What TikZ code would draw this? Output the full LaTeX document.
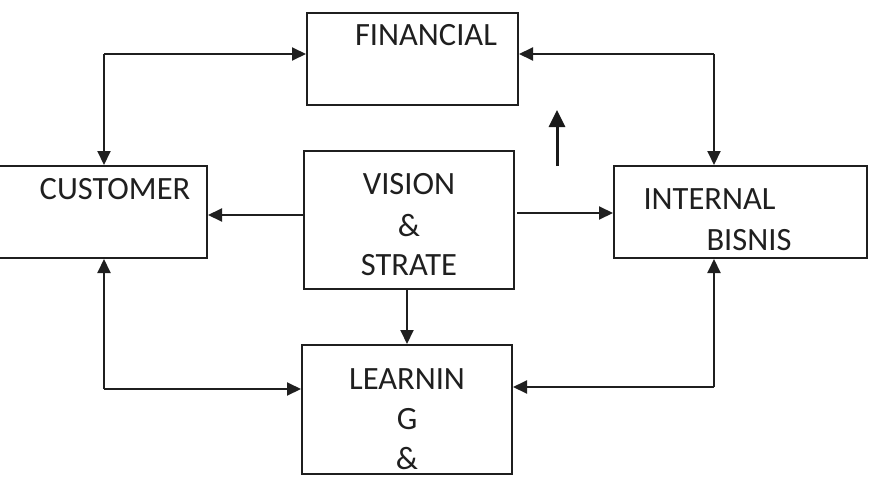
\documentclass[tikz,border=0pt]{standalone}
\usepackage{fontspec}
\setmainfont{Carlito}
\usetikzlibrary{arrows.meta}
\begin{document}
\begin{tikzpicture}[x=1pt,y=-1pt,
  box/.style={draw=black!88, line width=2pt, inner sep=0pt},
  lbl/.style={anchor=base, inner sep=0pt, text=black!88, font=\fontsize{32.5}{39}\selectfont},
  arr/.style={draw=black!88, line width=2pt, -{Triangle[length=14pt,width=13pt]}},
  bigarr/.style={draw=black!90, line width=3pt, -{Triangle[length=17pt,width=16pt]}}]
\useasboundingbox (0,0) rectangle (869,484);
% boxes
\node[box, minimum width=211pt, minimum height=92pt] (fin) at (412.5,59) {};
\node[box, minimum width=217pt, minimum height=92pt] (cust) at (98.5,212) {};
\node[box, minimum width=210pt, minimum height=138pt] (vis) at (409,220) {};
\node[box, minimum width=253pt, minimum height=92pt] (int) at (740.5,212) {};
\node[box, minimum width=210pt, minimum height=129pt] (lrn) at (407,409.5) {};
% texts
\node[lbl] (tfin) at (426,46) {FINANCIAL};
\node[lbl] (tcust) at (115,199) {CUSTOMER};
\node[lbl] (tvis1) at (409,194) {VISION};
\node[lbl] (tvis2) at (409,236) {\&};
\node[lbl] (tvis3) at (409,275) {STRATE};
\node[lbl] (tint1) at (709.5,209.5) {INTERNAL};
\node[lbl] (tint2) at (749,250.5) {BISNIS};
\node[lbl] (tlrn1) at (407,389) {LEARNIN};
\node[lbl] (tlrn2) at (407,429) {G};
\node[lbl] (tlrn3) at (407,469) {\&};
% connectors
\coordinate (c1) at (104,54);
\draw[arr] (c1) -- (fin.west |- c1);
\draw[arr] (c1) -- (cust.north -| c1);
\coordinate (c2) at (714,54);
\draw[arr] (c2) -- (fin.east |- c2);
\draw[arr] (c2) -- (int.north -| c2);
\coordinate (v1) at (304,215);
\draw[arr] (v1) -- (cust.east |- v1);
\coordinate (v2) at (517,213);
\draw[arr] (v2) -- (int.west |- v2);
\coordinate (u1) at (557,166);
\coordinate (u2) at (557,110);
\draw[bigarr] (u1) -- (u2);
\draw[arr] (lrn.north |- vis.south) -- (lrn.north);
\coordinate (c3) at (104,389);
\draw[arr] (c3) -- (cust.south -| c3);
\draw[arr] (c3) -- (lrn.west |- c3);
\coordinate (c4) at (714,387);
\draw[arr] (c4) -- (int.south -| c4);
\draw[arr] (c4) -- (lrn.east |- c4);
\end{tikzpicture}
\end{document}
